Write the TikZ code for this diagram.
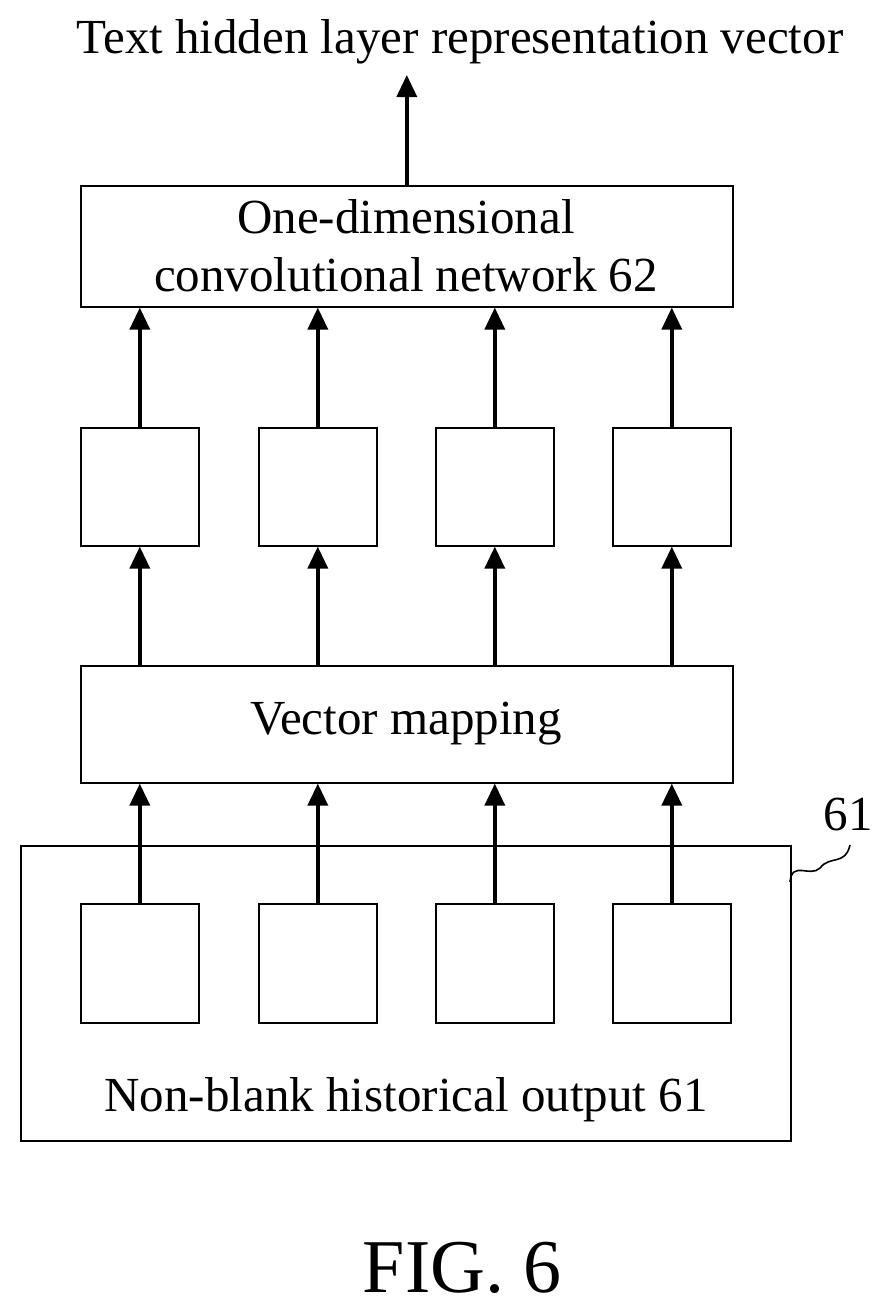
\documentclass[tikz,border=0pt]{standalone}
\usepackage{fontspec}
\setmainfont{Liberation Serif}
\usetikzlibrary{arrows.meta}
\begin{document}
\begin{tikzpicture}[x=1pt,y=-1pt,
  box/.style={draw,line width=1.6pt,inner sep=0pt,anchor=north west},
  arr/.style={line width=3.5pt,-{Triangle[length=22pt,width=20pt]}},
  txt/.style={font=\fontsize{49}{58}\selectfont,align=center}]
\useasboundingbox (0,0) rectangle (891,1314);
\node[txt] (title) at (460,42) {Text hidden layer representation vector};
\node[box,minimum width=652pt,minimum height=121pt] (conv) at (80,185) {};
\node[txt] at (406,246) {One-dimensional\\convolutional network 62};
\node[box,minimum width=652pt,minimum height=117pt] (map) at (80,665) {};
\node[txt] at (406,724) {Vector mapping};
\node[box,minimum width=770pt,minimum height=295pt] (outer) at (20,845) {};
\node[txt] at (406,1100) {Non-blank historical output 61};
\node[txt] (l61) at (848,815) {61};
\node[font=\fontsize{76}{80}\selectfont] (fig) at (462,1268) {FIG. 6};
\foreach \x/\n in {80/a,258/b,435/c,612/d}{
  \node[box,minimum width=118pt,minimum height=118pt] (m\n) at (\x,427) {};
  \node[box,minimum width=118pt,minimum height=119pt] (h\n) at (\x,903) {};
  \draw[arr] (m\n.north) -- (m\n.north |- conv.south);
  \draw[arr] (m\n.south |- map.north) -- (m\n.south);
  \draw[arr] (h\n.north) -- (h\n.north |- map.south);
}
\coordinate (tt) at (406,75);
\draw[arr] (conv.north) -- (conv.north |- tt);
\coordinate (q1) at (790,882);
\coordinate (q2) at (850,845);
\draw[line width=1.6pt] (q1) .. controls (792,860) and (810,878) .. (820,868) .. controls (830,855) and (845,866) .. (q2);
\end{tikzpicture}
\end{document}
